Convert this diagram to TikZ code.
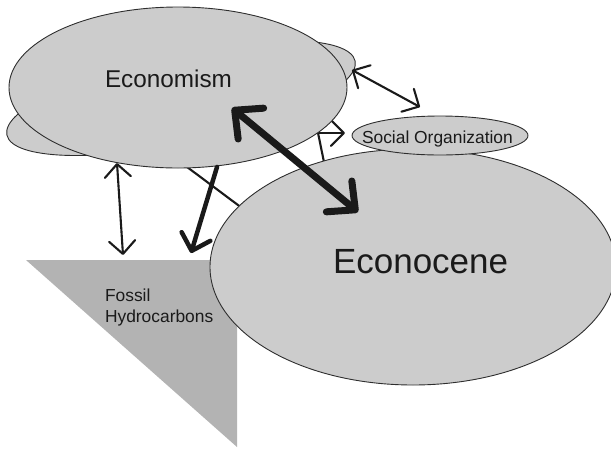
\documentclass[tikz,border=0pt]{standalone}
\usepackage{fontspec}
\setmainfont{Liberation Sans}
\usetikzlibrary{shapes.geometric,arrows.meta}
\definecolor{efill}{HTML}{CCCCCC}
\definecolor{tfill}{HTML}{B3B3B3}
\definecolor{ink}{HTML}{1A1A1A}
\definecolor{edgec}{HTML}{2E2E2E}
\begin{document}
\begin{tikzpicture}[x=1pt,y=-1pt,
  blob/.style={ellipse, draw=edgec, line width=0.9pt, fill=efill, inner sep=0pt, outer sep=0pt},
  lbl/.style={text=ink, inner sep=0pt, outer sep=0pt},
  thinline/.style={draw=ink, line width=2.1pt, line cap=round},
  thinarrow/.style={thinline, -{Straight Barb[length=13pt,width=26pt,round]}},
  thinboth/.style={thinline, {Straight Barb[length=13pt,width=26pt,round]}-{Straight Barb[length=13pt,width=26pt,round]}},
  midarrow/.style={draw=ink, line width=4.5pt, line cap=round, -{Straight Barb[length=15pt,width=30pt,round]}},
  bigboth/.style={draw=ink, line width=7pt, line cap=round, {Straight Barb[length=21pt,width=40pt,round]}-{Straight Barb[length=21pt,width=40pt,round]}}
]
\useasboundingbox (0,0) rectangle (611,448);

% background ellipse behind Economism
\node[blob, minimum width=356pt, minimum height=90pt, rotate=12] (back) at (181,98) {};

% connectors partly hidden behind the ellipses
\coordinate (h1) at (175,158);
\coordinate (h2) at (250,214);
\coordinate (h3) at (315,118);
\coordinate (h4) at (326,172);
\coordinate (h5) at (300,133);
\coordinate (s1) at (345,133);
\draw[thinline] (h1) -- (h2);
\draw[thinline] (h3) -- (h4);
\draw[thinarrow] (h5) -- (s1);

% fossil hydrocarbons triangle
\path[fill=tfill] (26,260) coordinate (t1) -- (237,260) coordinate (t2) -- (237,447) coordinate (t3) -- cycle;

% main ellipses
\node[blob, minimum width=338pt, minimum height=161pt] (economism) at (178,87.5) {};
\node[blob, minimum width=406pt, minimum height=236pt] (econocene) at (413,267) {};
\node[blob, minimum width=176pt, minimum height=39pt] (social) at (440,135.5) {};

% texts
\node[lbl, anchor=base west, font=\fontsize{24.3}{28}\selectfont] (tEconomism) at (105,87) {Economism};
\node[lbl, anchor=base west, font=\fontsize{35}{42}\selectfont] (tEconocene) at (333,273) {Econocene};
\node[lbl, anchor=base west, font=\fontsize{17.4}{21}\selectfont] (tSocial) at (362,143) {Social Organization};
\node[lbl, anchor=north west, align=left, font=\fontsize{17.4}{21}\selectfont] (tFossil) at (105,289) {Fossil\\Hydrocarbons};

% visible connectors
\coordinate (u1) at (352,70);
\coordinate (u2) at (420,107);
\draw[thinboth] (u1) -- (u2);

\coordinate (v1) at (117,163);
\coordinate (v2) at (123,255);
\draw[thinboth] (v1) -- (v2);

\coordinate (m1) at (217,167);
\coordinate (m2) at (191,253);
\draw[midarrow] (m1) -- (m2);

\coordinate (b1) at (232,108);
\coordinate (b2) at (358,212);
\draw[bigboth] (b1) -- (b2);
\end{tikzpicture}
\end{document}
